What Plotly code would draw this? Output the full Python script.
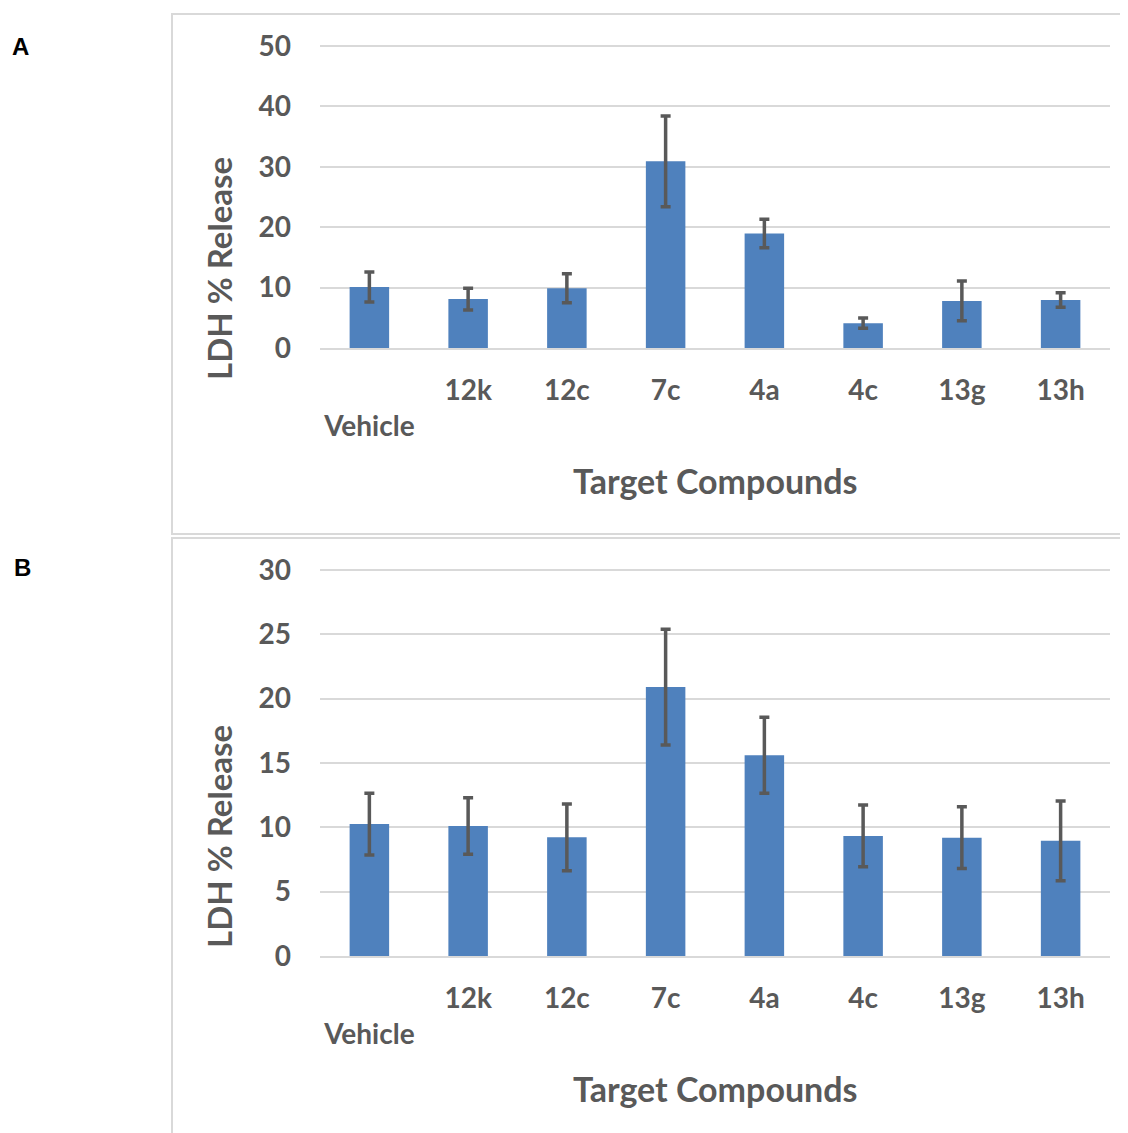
import plotly.graph_objects as go

categories = ["Vehicle", "12k", "12c", "7c", "4a", "4c", "13g", "13h"]
tick_labels = ["<br>Vehicle", "12k", "12c", "7c", "4a", "4c", "13g", "13h"]

values_a = [10.1, 8.1, 9.9, 30.9, 18.95, 4.1, 7.8, 7.95]
errors_a = [2.5, 1.8, 2.4, 7.5, 2.35, 0.85, 3.3, 1.2]

values_b = [10.25, 10.1, 9.22, 20.9, 15.6, 9.33, 9.2, 8.95]
errors_b = [2.4, 2.2, 2.6, 4.5, 2.95, 2.4, 2.4, 3.1]

OFF = 8  # page body margin
W, H = 1128 - OFF, 1133 - OFF
BLUE = "#4F81BD"
GRAY = "#595959"
GRID = "#D9D9D9"
FONT = "Lato"


def px_x(p):
    return (p - OFF) / W


def px_y(p):
    return 1 - (p - OFF) / H


fig = go.Figure()
fig.add_trace(go.Bar(x=categories, y=values_a, marker=dict(color=BLUE, line=dict(width=0)),
                     error_y=dict(type="data", array=errors_a, color=GRAY, thickness=3.5, width=5),
                     xaxis="x", yaxis="y", showlegend=False))
fig.add_trace(go.Bar(x=categories, y=values_b, marker=dict(color=BLUE, line=dict(width=0)),
                     error_y=dict(type="data", array=errors_b, color=GRAY, thickness=3.5, width=5),
                     xaxis="x2", yaxis="y2", showlegend=False))

xcommon = dict(tickmode="array", tickvals=categories, ticktext=tick_labels,
               tickfont=dict(family=FONT, size=28, color=GRAY, weight="bold"),
               showgrid=False, showline=True, linecolor=GRID, linewidth=2,
               ticks="", ticklabelstandoff=16, fixedrange=True, automargin=False)
ycommon = dict(tickfont=dict(family=FONT, size=28, color=GRAY, weight="bold"),
               showgrid=True, gridcolor=GRID, gridwidth=2, zeroline=False,
               showline=False, ticks="", ticklabelstandoff=28, automargin=False)

fig.update_layout(
    width=W, height=H,
    margin=dict(l=0, r=0, t=0, b=0, autoexpand=False),
    paper_bgcolor="white", plot_bgcolor="white",
    bargap=0.6,
    xaxis=dict(domain=[px_x(320), px_x(1110)], anchor="y", **xcommon),
    yaxis=dict(domain=[px_y(348), px_y(46 - 0.2 * 6.04)], anchor="x", range=[0, 50.2],
               tickvals=[0, 10, 20, 30, 40, 50], **ycommon),
    xaxis2=dict(domain=[px_x(320), px_x(1110)], anchor="y2", **xcommon),
    yaxis2=dict(domain=[px_y(956), px_y(570 - 0.2 * 12.87)], anchor="x2", range=[0, 30.2],
                tickvals=[0, 5, 10, 15, 20, 25, 30], **ycommon),
    shapes=[
        dict(type="rect", xref="paper", yref="paper", x0=px_x(172), x1=1.02, y0=px_y(534), y1=px_y(14),
             line=dict(color=GRID, width=2), fillcolor="rgba(0,0,0,0)", layer="below"),
        dict(type="rect", xref="paper", yref="paper", x0=px_x(172), x1=1.02, y0=-0.02, y1=px_y(538),
             line=dict(color=GRID, width=2), fillcolor="rgba(0,0,0,0)", layer="below"),
    ],
    annotations=[
        dict(text="A", xref="paper", yref="paper", x=px_x(10), y=px_y(46), xanchor="left", yanchor="middle",
             showarrow=False, font=dict(family="Liberation Sans", size=24, color="black", weight="bold")),
        dict(text="B", xref="paper", yref="paper", x=px_x(12), y=px_y(567), xanchor="left", yanchor="middle",
             showarrow=False, font=dict(family="Liberation Sans", size=24, color="black", weight="bold")),
        dict(text="LDH % Release", xref="paper", yref="paper", x=px_x(219), y=px_y(269), textangle=-90,
             xanchor="center", yanchor="middle", showarrow=False,
             font=dict(family=FONT, size=33, color=GRAY, weight="bold")),
        dict(text="LDH % Release", xref="paper", yref="paper", x=px_x(219), y=px_y(837), textangle=-90,
             xanchor="center", yanchor="middle", showarrow=False,
             font=dict(family=FONT, size=33, color=GRAY, weight="bold")),
        dict(text="Target Compounds", xref="paper", yref="paper", x=px_x(715), y=px_y(480),
             xanchor="center", yanchor="middle", showarrow=False,
             font=dict(family=FONT, size=34, color=GRAY, weight="bold")),
        dict(text="Target Compounds", xref="paper", yref="paper", x=px_x(715), y=px_y(1088),
             xanchor="center", yanchor="middle", showarrow=False,
             font=dict(family=FONT, size=34, color=GRAY, weight="bold")),
    ],
)

fig.write_html("out.html")
